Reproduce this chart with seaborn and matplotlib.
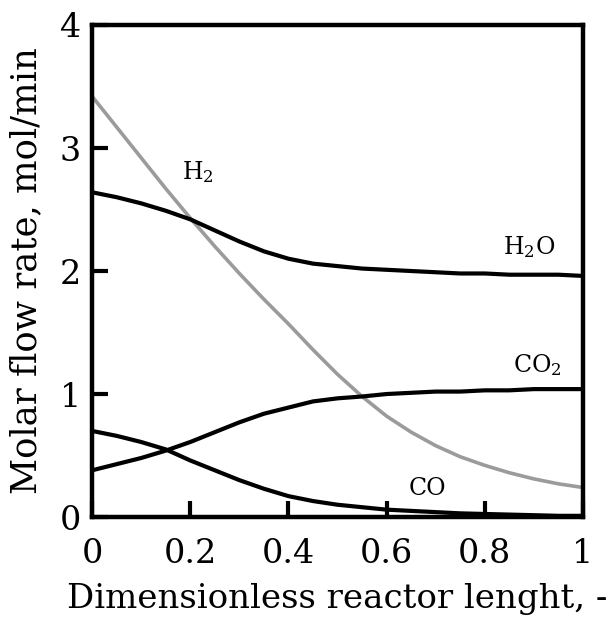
import numpy as np
import pandas as pd
import seaborn as sns
import matplotlib
matplotlib.use("Agg")
import matplotlib.pyplot as plt

# ---- data ----
x_len = [0.0, 0.05, 0.1, 0.15, 0.2, 0.25, 0.3, 0.35, 0.4, 0.45, 0.5,
         0.55, 0.6, 0.65, 0.7, 0.75, 0.8, 0.85, 0.9, 0.95, 1.0]
h2 = [3.42, 3.17, 2.92, 2.67, 2.43, 2.20, 1.98, 1.77, 1.57, 1.36, 1.16,
      0.98, 0.82, 0.69, 0.58, 0.49, 0.42, 0.36, 0.31, 0.27, 0.24]
h2o = [2.64, 2.60, 2.55, 2.49, 2.42, 2.33, 2.24, 2.16, 2.10, 2.06, 2.04,
       2.02, 2.01, 2.00, 1.99, 1.98, 1.98, 1.97, 1.97, 1.97, 1.96]
co2 = [0.38, 0.43, 0.48, 0.54, 0.61, 0.69, 0.77, 0.84, 0.89, 0.94, 0.965,
       0.98, 1.00, 1.01, 1.02, 1.02, 1.03, 1.03, 1.04, 1.04, 1.04]
co = [0.70, 0.66, 0.61, 0.55, 0.46, 0.38, 0.30, 0.23, 0.17, 0.13, 0.10,
      0.08, 0.06, 0.05, 0.04, 0.03, 0.025, 0.02, 0.015, 0.01, 0.01]

species = ["H$_2$", "H$_2$O", "CO$_2$", "CO"]
label_x = [0.216, 0.89, 0.906, 0.684]
label_y = [2.75, 2.14, 1.18, 0.18]

x_ticks = [0, 0.2, 0.4, 0.6, 0.8, 1]
x_ticklabels = ["0", "0.2", "0.4", "0.6", "0.8", "1"]
y_ticks = [0, 1, 2, 3, 4]

sns.set_style("ticks")
plt.rcParams["font.family"] = ["DejaVu Serif"]
plt.rcParams["mathtext.fontset"] = "dejavuserif"
plt.rcParams["text.color"] = "black"
plt.rcParams["axes.labelcolor"] = "black"

fig = plt.figure(figsize=(6.14, 6.17), dpi=100)
ax = fig.add_axes([0.150, 0.162, 0.7995, 0.7975])

df = pd.DataFrame({"x": x_len, "H2": h2, "H2O": h2o, "CO2": co2, "CO": co})
sns.lineplot(data=df, x="x", y="H2", ax=ax, color="#9b9b9b", lw=2.6)
for col in ["H2O", "CO2", "CO"]:
    sns.lineplot(data=df, x="x", y=col, ax=ax, color="black", lw=3.0)

for name, lx, ly in zip(species, label_x, label_y):
    ax.text(lx, ly, name, ha="center", va="baseline", fontsize=17, color="black")

ax.set_xlim(0, 1)
ax.set_ylim(0, 4)
ax.set_xticks(x_ticks)
ax.set_xticklabels(x_ticklabels)
ax.set_yticks(y_ticks)
ax.tick_params(direction="in", length=11.5, width=3, labelsize=24, colors="black")
ax.tick_params(axis="x", pad=15)
ax.tick_params(axis="y", pad=8)
for s in ax.spines.values():
    s.set_linewidth(3.2)
    s.set_color("black")
ax.set_xlabel("Dimensionless reactor lenght, -", fontsize=24.5)
ax.set_ylabel("Molar flow rate, mol/min", fontsize=25.5)
ax.xaxis.set_label_coords(0.5, -0.135)
ax.yaxis.set_label_coords(-0.1, 0.5)

fig.savefig("out.png", dpi=100)
